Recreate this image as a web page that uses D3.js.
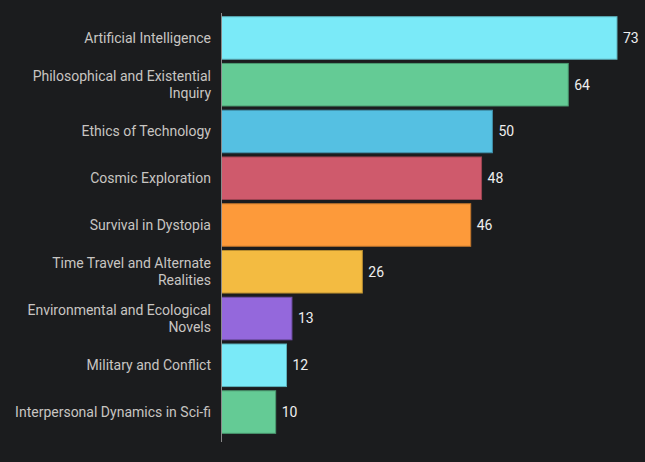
<!DOCTYPE html>
<html>
<head>
<meta charset="utf-8">
<script src="https://cdn.jsdelivr.net/npm/d3@7"></script>
<style>
  html, body { margin: 0; padding: 0; background: #1b1c1e; }
  svg { display: block; }
</style>
</head>
<body>
<svg id="chart"></svg>
<script>
var categories = [
    "Artificial Intelligence",
    "Philosophical and Existential Inquiry",
    "Ethics of Technology",
    "Cosmic Exploration",
    "Survival in Dystopia",
    "Time Travel and Alternate Realities",
    "Environmental and Ecological Novels",
    "Military and Conflict",
    "Interpersonal Dynamics in Sci-fi"
];
var values = [73, 64, 50, 48, 46, 26, 13, 12, 10];
var colors = ["#7aeaf8", "#64cb95", "#55c0e2", "#cf5a6c", "#fd9a3a", "#f3bb41", "#9468dc", "#7aeaf8", "#64cb95"];

var width = 645;
var height = 462;
var left = 221.5;

var svg = d3.select("#chart")
    .attr("width", width)
    .attr("height", height);

var x = d3.scaleLinear()
    .domain([0, 73])
    .range([left, 617]);

var y = d3.scaleBand()
    .domain(categories)
    .range([12, 438])
    .paddingInner(0.09)
    .paddingOuter(0.1);

// bars
svg.append("g")
    .selectAll("rect")
    .data(values)
    .enter()
    .append("rect")
    .attr("x", x(0))
    .attr("y", (d, i) => y(categories[i]))
    .attr("width", d => x(d) - x(0))
    .attr("height", y.bandwidth())
    .attr("fill", (d, i) => colors[i])
    .attr("stroke", (d, i) => d3.color(colors[i]).darker(0.8))
    .attr("stroke-width", 1);

// value labels
svg.append("g")
    .selectAll("text")
    .data(values)
    .enter()
    .append("text")
    .attr("x", d => x(d) + 6)
    .attr("y", (d, i) => y(categories[i]) + y.bandwidth() / 2)
    .attr("dy", "0.35em")
    .attr("fill", "#eeeeee")
    .style("font", "14px Roboto")
    .text(d => d);

// axis line
svg.append("line")
    .attr("x1", left).attr("x2", left)
    .attr("y1", 13).attr("y2", 442)
    .attr("stroke", "#8a8a8a")
    .attr("stroke-width", 1);

// category labels, wrapped
var labels = svg.append("g")
    .selectAll("text")
    .data(categories)
    .enter()
    .append("text")
    .attr("x", 211)
    .attr("text-anchor", "end")
    .attr("fill", "#c8c5c2")
    .style("font", "14px Roboto");

labels.each(function(name) {
    var t = d3.select(this);
    var words = name.split(" ");
    var lines = [];
    var line = [];
    var probe = t.append("tspan");
    words.forEach(function(w) {
        line.push(w);
        probe.text(line.join(" "));
        if (probe.node().getComputedTextLength() > 205 && line.length > 1) {
            line.pop();
            lines.push(line.join(" "));
            line = [w];
        }
    });
    lines.push(line.join(" "));
    probe.remove();
    var mid = y(name) + y.bandwidth() / 2;
    var lh = 17;
    lines.forEach(function(l, k) {
        t.append("tspan")
            .attr("x", 211)
            .attr("y", mid + (k - (lines.length - 1) / 2) * lh)
            .attr("dy", "0.35em")
            .text(l);
    });
});
</script>
</body>
</html>
